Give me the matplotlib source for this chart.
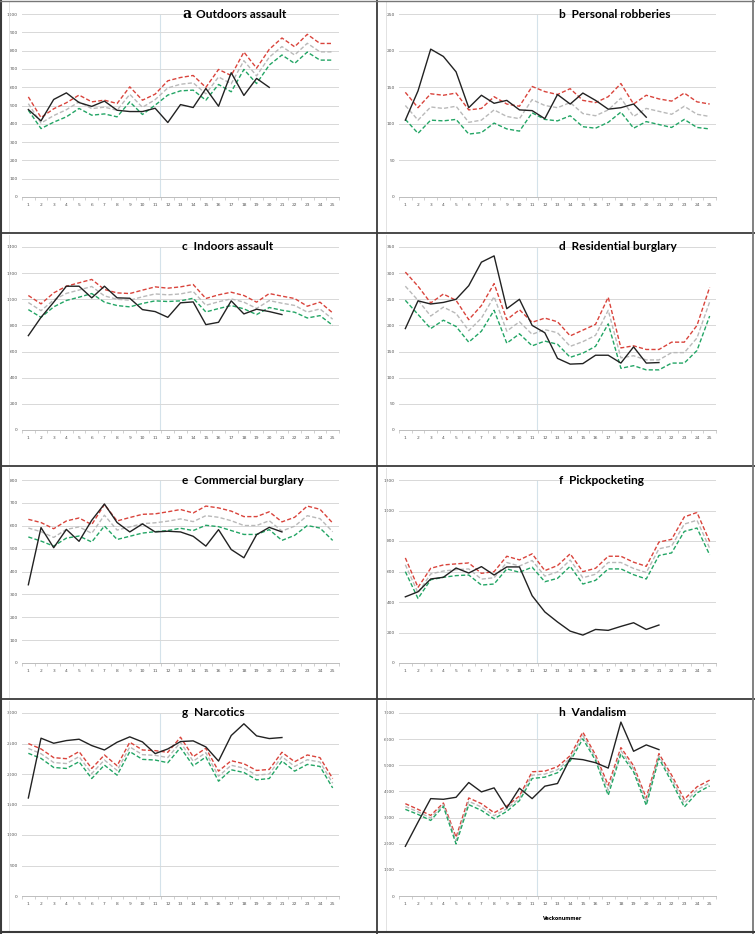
import numpy as np
import matplotlib.pyplot as plt
from matplotlib.lines import Line2D

""" Weekly crime counts vs expected band, 8 panels in a 4x2 grid """

weeks = np.arange(1, 26)

titles = ["Outdoors assault", "Personal robberies", "Indoors assault", "Residential burglary",
          "Commercial burglary", "Pickpocketing", "Narcotics", "Vandalism"]
letters = ["a", "b", "c", "d", "e", "f", "g", "h"]
ymax = [1000, 250, 1400, 350, 800, 1200, 3000, 7000]
ystep = [100, 50, 200, 50, 100, 200, 500, 1000]

# observed counts (weeks 1..20/21)
obs_a = [478, 416, 533, 569, 516, 495, 524, 474, 467, 467, 485, 407, 505, 489, 593, 496, 679, 555, 648, 599]
obs_b = [105, 145, 202, 192, 171, 122, 139, 128, 132, 119, 118, 107, 140, 127, 142, 132, 120, 122, 127, 109]
obs_c = [722, 862, 978, 1100, 1100, 1011, 1100, 1011, 1008, 921, 906, 862, 973, 980, 806, 824, 988, 888, 924, 906, 883]
obs_d = [194, 247, 241, 244, 250, 276, 321, 333, 232, 250, 200, 186, 137, 126, 127, 143, 143, 128, 159, 128, 129]
obs_e = [342, 592, 504, 584, 532, 624, 695, 614, 573, 608, 573, 576, 573, 554, 511, 583, 496, 460, 561, 593, 573]
obs_f = [434, 467, 551, 562, 623, 590, 632, 577, 630, 630, 441, 335, 269, 209, 183, 220, 214, 240, 264, 220, 249]
obs_g = [1607, 2587, 2504, 2548, 2570, 2466, 2394, 2521, 2609, 2526, 2334, 2411, 2532, 2543, 2444, 2212, 2631, 2823,
         2625, 2581, 2598]
obs_h = [1901, 2826, 3725, 3699, 3776, 4341, 3982, 4136, 3365, 4123, 3725, 4200, 4303, 5266, 5215, 5099, 4893, 6653,
         5536, 5780, 5600]

# upper band (red)
up_a = [547, 434, 482, 515, 557, 520, 529, 511, 602, 529, 562, 635, 653, 664, 599, 697, 664, 792, 704, 807, 869, 821,
        889, 839, 839]
up_b = [143, 122, 141, 139, 142, 119, 121, 137, 127, 124, 151, 144, 140, 148, 132, 129, 137, 155, 127, 139, 134, 131,
        142, 130, 127]
up_c = [1029, 965, 1049, 1100, 1126, 1152, 1075, 1049, 1044, 1070, 1095, 1085, 1095, 1113, 1006, 1034, 1054, 1029, 978,
        1044, 1024, 1006, 947, 978, 896]
up_d = [302, 275, 243, 260, 248, 211, 238, 280, 211, 230, 206, 214, 207, 180, 191, 202, 254, 157, 161, 154, 154, 168,
        168, 200, 273]
up_e = [628, 614, 587, 621, 634, 605, 693, 621, 636, 650, 652, 661, 671, 656, 686, 678, 664, 640, 640, 661, 617, 637,
        686, 672, 612]
up_f = [689, 496, 621, 643, 650, 656, 588, 599, 700, 676, 716, 606, 639, 716, 599, 621, 700, 700, 661, 634, 793, 811,
        958, 987, 797]
up_g = [2499, 2411, 2268, 2251, 2367, 2091, 2312, 2135, 2521, 2394, 2383, 2356, 2603, 2284, 2422, 2047, 2218, 2168,
        2058, 2075, 2356, 2201, 2312, 2268, 1926]
up_h = [3532, 3314, 3082, 3558, 2248, 3750, 3532, 3185, 3442, 3827, 4752, 4777, 4945, 5369, 6268, 5394, 4238, 5677,
        4983, 3750, 5446, 4624, 3699, 4175, 4431]

# expected (grey)
mid_a = [510, 404, 445, 477, 520, 483, 491, 474, 561, 490, 532, 596, 616, 624, 564, 656, 619, 745, 662, 764, 822, 776,
         840, 793, 793]
mid_b = [125, 105, 123, 121, 124, 102, 105, 119, 110, 107, 133, 125, 122, 129, 114, 111, 119, 135, 110, 121, 117, 113,
         124, 113, 110]
mid_c = [975, 913, 995, 1045, 1071, 1098, 1026, 1000, 993, 1019, 1041, 1034, 1041, 1060, 954, 981, 1003, 978, 930,
         990, 970, 953, 902, 926, 848]
mid_d = [275, 248, 218, 235, 223, 190, 214, 255, 189, 207, 183, 192, 186, 160, 169, 181, 229, 138, 142, 134, 134, 148,
         148, 176, 245]
mid_e = [590, 574, 549, 584, 595, 567, 646, 581, 595, 609, 613, 620, 630, 618, 644, 637, 622, 601, 601, 622, 577, 598,
         644, 631, 574]
mid_f = [644, 460, 584, 603, 612, 617, 550, 559, 659, 636, 672, 570, 597, 675, 559, 582, 659, 659, 620, 593, 749, 767,
         911, 936, 753]
mid_g = [2419, 2333, 2188, 2171, 2284, 2008, 2229, 2058, 2444, 2317, 2306, 2270, 2518, 2210, 2350, 1964, 2143, 2096,
         1981, 2000, 2284, 2124, 2234, 2196, 1849]
mid_h = [3423, 3218, 2986, 3494, 2120, 3622, 3404, 3070, 3340, 3738, 4624, 4662, 4830, 5266, 6140, 5292, 4046, 5555,
         4868, 3609, 5356, 4496, 3552, 4059, 4322]

# lower band (green)
lo_a = [474, 374, 409, 438, 484, 447, 454, 438, 520, 451, 502, 557, 580, 584, 529, 615, 575, 697, 620, 721, 776, 730,
        792, 748, 748]
lo_b = [106, 87, 105, 104, 106, 86, 88, 101, 93, 90, 115, 106, 104, 111, 96, 94, 102, 116, 94, 103, 99, 95, 106, 95, 93]
lo_c = [921, 862, 942, 991, 1016, 1044, 978, 952, 942, 968, 988, 983, 988, 1008, 903, 929, 952, 927, 883, 937, 916,
        901, 857, 875, 801]
lo_d = [248, 221, 194, 210, 198, 168, 189, 229, 166, 184, 161, 170, 164, 139, 147, 160, 203, 118, 123, 115, 115, 128,
        128, 152, 218]
lo_e = [551, 533, 511, 546, 555, 529, 599, 540, 554, 568, 574, 579, 589, 579, 602, 596, 579, 562, 562, 583, 536, 558,
        601, 590, 536]
lo_f = [599, 423, 546, 562, 573, 577, 511, 518, 617, 595, 628, 533, 555, 634, 518, 542, 617, 617, 579, 551, 705, 722,
        863, 885, 709]
lo_g = [2339, 2256, 2107, 2091, 2201, 1926, 2146, 1981, 2367, 2240, 2229, 2185, 2433, 2135, 2279, 1882, 2069, 2025,
        1904, 1926, 2212, 2047, 2157, 2124, 1772]
lo_h = [3314, 3121, 2890, 3429, 1991, 3493, 3275, 2954, 3237, 3648, 4495, 4547, 4714, 5164, 6011, 5189, 3853, 5433,
        4752, 3468, 5266, 4367, 3404, 3943, 4213]

observed = [obs_a, obs_b, obs_c, obs_d, obs_e, obs_f, obs_g, obs_h]
upper = [up_a, up_b, up_c, up_d, up_e, up_f, up_g, up_h]
middle = [mid_a, mid_b, mid_c, mid_d, mid_e, mid_f, mid_g, mid_h]
lower = [lo_a, lo_b, lo_c, lo_d, lo_e, lo_f, lo_g, lo_h]

W, H = 755, 934
fig = plt.figure(figsize=(W / 100, H / 100), dpi=100)

cell_x = [0, 377]
cell_y = [0, 233, 466, 699]

for i in range(8):
    col = i % 2
    row = i // 2
    cx, cy = cell_x[col], cell_y[row]
    left = cx + 22
    top = cy + 14
    ax = fig.add_axes([left / W, 1 - (top + 183) / H, 317 / W, 183 / H])

    ax.axvline(11.35, color='#d4e2ea', lw=0.8, zorder=0)
    ax.plot(weeks, upper[i], color='#d9443c', lw=1.0, ls=(0, (3, 1.6)), zorder=2)
    ax.plot(weeks, middle[i], color='#b9b9b9', lw=1.0, ls=(0, (3, 1.6)), zorder=2)
    ax.plot(weeks, lower[i], color='#23a565', lw=1.0, ls=(0, (3, 1.6)), zorder=2)
    n = len(observed[i])
    ax.plot(weeks[:n], observed[i], color='#222222', lw=1.0, zorder=3)

    ax.set_xlim(0.5, 25.5)
    ax.set_ylim(0, ymax[i])
    ax.set_yticks(np.arange(0, ymax[i] + 1, ystep[i]))
    ax.set_xticks(weeks)
    ax.set_xticks(np.arange(0.5, 26, 1), minor=True)
    ax.grid(axis='y', color='#d8d8d8', lw=0.7)
    ax.set_axisbelow(True)
    for s in ['top', 'right', 'left']:
        ax.spines[s].set_visible(False)
    ax.spines['bottom'].set_color('#bdbdbd')
    ax.spines['bottom'].set_linewidth(0.7)
    ax.tick_params(axis='y', length=0, labelsize=3.2, labelcolor='#555555', pad=3)
    ax.tick_params(axis='x', which='major', length=0, labelsize=3.2, labelcolor='#555555', pad=4)
    ax.tick_params(axis='x', which='minor', length=2, width=0.5, color='#bdbdbd')

    if letters[i] == 'a':
        ax.text(0.505, 1.0, 'a', transform=ax.transAxes, ha='left', va='center',
                fontsize=10, fontweight='bold', family='DejaVu Serif')
        ax.text(0.55, 1.0, titles[i], transform=ax.transAxes, ha='left', va='center',
                fontsize=8.6, fontweight='bold', family='Lato')
    else:
        ax.text(0.505, 1.0, letters[i] + '  ' + titles[i], transform=ax.transAxes, ha='left', va='center',
                fontsize=8.6, fontweight='bold', family='Lato')

    if letters[i] == 'h':
        ax.set_xlabel('Veckonummer', fontsize=3.5, fontweight='bold', labelpad=3, loc='left')
        ax.xaxis.set_label_coords(0.455, -0.11)

    # faint chart-area edge near the left of each cell
    x_edge = (cx + 9) / W
    fig.add_artist(Line2D([x_edge, x_edge], [1 - (cy + 2) / H, 1 - (cy + 231) / H],
                          color='#e2e2e2', lw=0.7))

# cell borders
bc = '#3a3a3a'
fig.add_artist(Line2D([377 / W, 377 / W], [0, 1], color=bc, lw=1.3))
for yy in [233, 466, 699]:
    fig.add_artist(Line2D([0, 1], [1 - yy / H, 1 - yy / H], color=bc, lw=1.3))
fig.add_artist(Line2D([1 / W, 1 / W], [0, 1], color=bc, lw=1.5))
fig.add_artist(Line2D([753 / W, 753 / W], [0, 1], color='#777777', lw=1.3))
fig.add_artist(Line2D([0, 1], [1 - 932 / H, 1 - 932 / H], color=bc, lw=1.5))
fig.add_artist(Line2D([0, 1], [1 - 1 / H, 1 - 1 / H], color='#777777', lw=1.0))

plt.savefig('out.png', dpi=100)
